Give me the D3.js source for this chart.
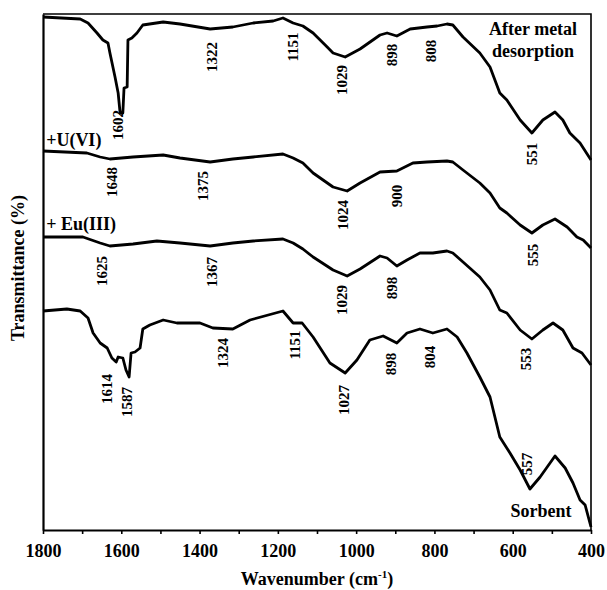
<!DOCTYPE html>
<html>
<head>
<meta charset="utf-8">
<script src="https://cdn.jsdelivr.net/npm/d3@7"></script>
<style>
  body { margin: 0; background: #fff; }
  svg { display: block; font-family: 'Liberation Serif', 'Times New Roman', serif; font-weight: bold; }
</style>
</head>
<body>
<svg id="chart"></svg>
<script>
// wavenumber (cm-1) and transmittance (a.u., stacked)
var desorbWn  = [1800,1705,1685,1662,1647,1634,1629,1616,1608,1603,1596,1593,1585,1583,1573,1560,1545,1493,1450,1373,1315,1263,1212,1187,1161,1136,1110,1074,1059,1028,990,939,921,896,862,819,793,768,753,727,684,658,633,615,581,551,523,492,472,454,428,400],
  desorbT   = [513,511,507,497,490,487,477,453,437,417,417,442,443,490,492,497,505,508,506,501,503,507,509,512,507,504,497,483,477,473,481,495,497,494,501,503,504,506,505,493,477,463,437,430,410,397,410,418,410,397,387,370];

var uWn = [1800,1688,1654,1629,1570,1493,1450,1373,1315,1263,1187,1161,1136,1110,1059,1023,990,939,896,855,819,768,753,727,684,658,633,615,581,551,523,492,461,436,420,400],
  uT    = [379,377,373,371,373,375,372,368,371,373,376,372,367,357,343,339,347,358,359,367,368,369,368,360,347,337,322,317,305,297,305,311,303,293,290,282];

var euWn = [1800,1698,1654,1629,1570,1509,1450,1373,1315,1263,1187,1161,1136,1110,1059,1023,990,939,921,896,870,837,804,768,753,727,684,658,633,615,581,551,523,497,472,446,423,400],
  euT    = [293,293,287,284,286,289,287,284,287,289,291,287,281,273,260,254,261,274,272,264,270,277,277,279,277,268,253,240,220,217,200,191,200,207,200,182,177,165];

var sorbWn = [1800,1739,1705,1685,1672,1654,1636,1624,1613,1608,1596,1588,1580,1575,1565,1552,1545,1527,1493,1458,1399,1366,1315,1271,1187,1161,1138,1110,1067,1028,998,965,931,896,870,837,804,768,742,717,684,658,633,607,581,556,530,492,466,446,428,415,400],
  sorbT    = [219,221,219,212,197,187,182,172,168,173,172,160,153,177,178,182,201,205,210,207,207,202,201,210,219,207,207,193,167,157,170,190,194,187,197,201,197,201,193,177,153,133,93,77,60,41,53,74,62,47,30,25,3];

var majorTicks = [1800,1600,1400,1200,1000,800,600,400],
  minorTicks = [1700,1500,1300,1100,900,700,500];

// peak labels: text, wavenumber, level
var peakText = ['1602','1322','1151','1029','898','808','551',
                '1648','1375','1024','900','555',
                '1625','1367','1029','898','553',
                '1614','1587','1324','1151','1027','898','804','557'],
  peakWn = [1608,1368,1161,1036,908,809,551,
            1624,1391,1034,896,548,
            1649,1368,1036,908,566,
            1636,1585,1340,1156,1031,911,811,564],
  peakY  = [405,473,483,450,475,479,376,
            348,344,315,334,275,
            259,258,230,242,171,
            141,128,177,185,130,166,173,66];

var width = 607, height = 590,
  margin = { top: 14, right: 16, bottom: 60, left: 43 },
  innerWidth = width - margin.left - margin.right,
  innerHeight = height - margin.top - margin.bottom;

var svg = d3.select('#chart').attr('width', width).attr('height', height);

var xScale = d3.scaleLinear().domain([1800, 400]).range([0, innerWidth]),
  yScale = d3.scaleLinear().domain([0, innerHeight]).range([innerHeight, 0]);

var g = svg.append('g').attr('transform', `translate(${margin.left}, ${margin.top})`);

// frame (top and right)
g.append('path')
  .attr('d', `M0,0H${innerWidth}V${innerHeight}`)
  .attr('fill', 'none').attr('stroke', '#000').attr('stroke-width', 1.6);

// minor ticks, no labels
var minorAxis = d3.axisBottom(xScale).tickValues(minorTicks).tickSize(4).tickFormat('');
var mx = g.append('g').attr('transform', 'translate(0, ' + innerHeight + ')').call(minorAxis);
mx.selectAll('.tick text').remove();
mx.select('.domain').remove();
mx.selectAll('.tick line').attr('stroke-width', 1.6);

var xAxis = d3.axisBottom(xScale)
  .tickValues(majorTicks)
  .tickSize(4)
  .tickSizeOuter(0)
  .tickFormat(d3.format('d'));
var ax = g.append('g').attr('transform', 'translate(0, ' + innerHeight + ')').call(xAxis);
ax.select('.domain').attr('stroke-width', 2.2);
ax.selectAll('.tick line').attr('stroke-width', 1.6);
ax.selectAll('.tick text')
  .attr('y', 14)
  .attr('font-family', "'Liberation Serif', serif")
  .attr('font-weight', 'bold')
  .attr('font-size', 18)
  .attr('fill', '#000');

var yAxis = d3.axisLeft(yScale).tickValues([]).tickSizeOuter(0);
g.append('g').call(yAxis).select('.domain').attr('stroke-width', 2.2);

var line = d3.line()
  .x((d) => xScale(d[0]))
  .y((d) => yScale(d[1]));

var series = [
  d3.zip(desorbWn, desorbT),
  d3.zip(uWn, uT),
  d3.zip(euWn, euT),
  d3.zip(sorbWn, sorbT)
];

g.selectAll('path.spec')
  .data(series)
  .enter()
  .append('path')
  .attr('class', 'spec')
  .attr('d', line)
  .attr('fill', 'none')
  .attr('stroke', '#000')
  .attr('stroke-width', 2.8)
  .attr('stroke-linejoin', 'round');

// peak labels, rotated
g.selectAll('text.peak')
  .data(peakText)
  .enter()
  .append('text')
  .attr('class', 'peak')
  .attr('transform', (d, i) => `translate(${xScale(peakWn[i])}, ${yScale(peakY[i])}) rotate(-90)`)
  .attr('text-anchor', 'middle')
  .attr('dy', '0.35em')
  .attr('font-size', 15)
  .text((d) => d);

// series names
var names = [
  { t: 'After metal', wn: 548, y: 495, a: 'middle' },
  { t: 'desorption', wn: 548, y: 473, a: 'middle' },
  { t: '+U(VI)', wn: 1792, y: 384, a: 'start' },
  { t: '+ Eu(III)', wn: 1792, y: 300, a: 'start' },
  { t: 'Sorbent', wn: 528, y: 13, a: 'middle' }
];
g.selectAll('text.name')
  .data(names)
  .enter()
  .append('text')
  .attr('class', 'name')
  .attr('x', (d) => xScale(d.wn))
  .attr('y', (d) => yScale(d.y))
  .attr('text-anchor', (d) => d.a)
  .attr('font-size', 18)
  .text((d) => d.t);

// axis titles
var xt = svg.append('text')
  .attr('x', margin.left + innerWidth / 2)
  .attr('y', 585)
  .attr('text-anchor', 'middle')
  .attr('font-size', 18);
xt.append('tspan').text('Wavenumber (cm');
xt.append('tspan').attr('font-size', 11).attr('dy', -7).text('-1');
xt.append('tspan').attr('dy', 7).text(')');

svg.append('text')
  .attr('transform', 'translate(24, 268) rotate(-90)')
  .attr('text-anchor', 'middle')
  .attr('font-size', 18)
  .text('Transmittance (%)');
</script>
</body>
</html>
